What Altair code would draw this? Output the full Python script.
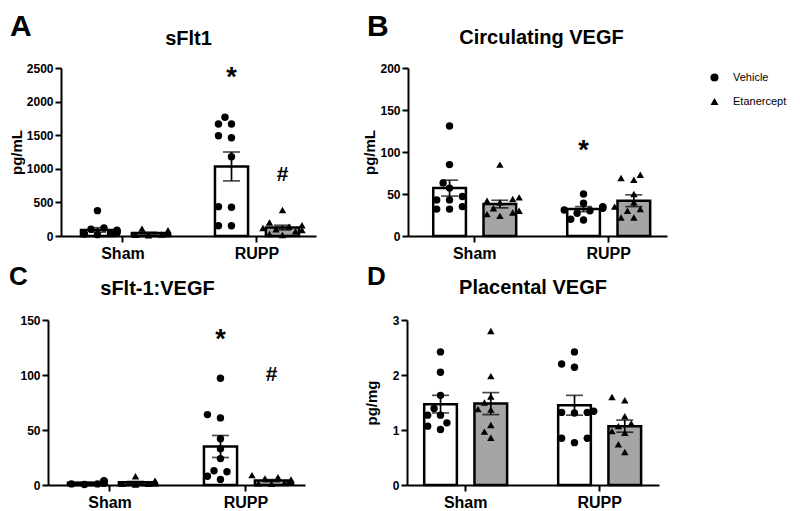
import altair as alt
import pandas as pd

FONT = "Liberation Sans"
categories = ["Sham", "RUPP"]
groups = ["Vehicle", "Etanercept"]

# ---- Panel A: sFlt1 (pg/mL) ----
a_sham_vehicle = [377, 120, 100, 85, 70, 60, 50, 40, 30, 20]
a_sham_etanercept = [110, 85, 65, 55, 45, 35, 30, 22, 18, 12]
a_rupp_vehicle = [1766, 1667, 1667, 1493, 1463, 1180, 437, 427, 153, 153]
a_rupp_etanercept = [387, 200, 160, 140, 120, 100, 90, 70, 30, 15]
a_mean = [90, 45, 1035, 125]          # Sham-Veh, Sham-Eta, RUPP-Veh, RUPP-Eta
a_sem = [33, 10, 215, 35]
a_marks = [("RUPP", "Vehicle", "*", 2345), ("RUPP", "Etanercept", "#", 908)]

# ---- Panel B: Circulating VEGF (pg/mL) ----
b_sham_vehicle = [131, 85, 63, 57, 47, 43, 43, 35, 32, 32]
b_sham_etanercept = [85, 46, 44, 42, 40, 33, 30, 28, 26, 24]
b_rupp_vehicle = [50, 39, 35, 34, 33, 31, 30, 27, 20, 19]
b_rupp_etanercept = [73, 69, 67, 50, 40, 35, 32, 30, 22, 22]
b_mean = [57, 38, 32, 42]
b_sem = [9.5, 4.5, 3, 7]
b_marks = [("RUPP", "Vehicle", "*", 101)]

# ---- Panel C: sFlt-1:VEGF ----
c_sham_vehicle = [4, 3.5, 3, 2.5, 2, 2, 1.5, 1, 1, 0.5]
c_sham_etanercept = [8, 4, 3, 2.5, 2, 2, 1.5, 1, 1, 0.5]
c_rupp_vehicle = [97, 64, 61, 42, 33, 24, 13, 12, 8, 5]
c_rupp_etanercept = [9, 7, 6, 5, 4, 3, 2.5, 2, 1.5, 1]
c_mean = [2, 2.5, 35, 4]
c_sem = [0.4, 0.7, 10, 0.9]
c_marks = [("RUPP", "Vehicle", "*", 131.5), ("RUPP", "Etanercept", "#", 100.3)]

# ---- Panel D: Placental VEGF (pg/mg) ----
d_sham_vehicle = [2.42, 2.05, 1.63, 1.39, 1.27, 1.27, 1.13, 1.07, 1.01]
d_sham_etanercept = [2.80, 1.98, 1.61, 1.50, 1.38, 1.37, 1.09, 0.97, 0.86]
d_rupp_vehicle = [2.42, 2.20, 2.14, 1.34, 1.32, 1.32, 1.31, 0.85, 0.85, 0.77]
d_rupp_etanercept = [1.60, 1.54, 1.25, 1.12, 1.07, 0.98, 0.95, 0.74, 0.60]
d_mean = [1.47, 1.48, 1.45, 1.07]
d_sem = [0.16, 0.2, 0.18, 0.11]
d_marks = []

SUBSTEP = 51.0  # px between the two bar centres inside a group
JX_DOMAIN = [-16.5 / SUBSTEP, 1 + 16.5 / SUBSTEP]


def swarm(values, ppu, step=6.5, min_d=8.0):
    """Deterministic bee-swarm: horizontal pixel offsets so points do not overlap."""
    order = sorted(range(len(values)), key=lambda i: values[i])
    placed = []
    offs = [0.0] * len(values)
    cands = [0, -1, 1, -2, 2, -3, 3]
    for i in order:
        y = values[i] * ppu
        x = 0.0
        for c in cands:
            x = c * step
            if all((x - px) ** 2 + (y - py) ** 2 >= min_d ** 2 for py, px in placed):
                break
        placed.append((y, x))
        offs[i] = x
    return offs


def frange(a, b, s):
    v = a
    while v <= b + 1e-9:
        yield v
        v += s


def panel(cfg, series, means, sems, marks, show_legend=False):
    w, h, ymax, ystep = cfg["w"], cfg["h"], cfg["ymax"], cfg["ystep"]
    ppu = h / ymax
    pts = []
    for ci, c in enumerate(categories):
        for gi, g in enumerate(groups):
            vals = series[ci * 2 + gi]
            offs = swarm(vals, ppu)
            for v, o in zip(vals, offs):
                pts.append({"cat": c, "grp": g, "val": v, "jx": gi + o / SUBSTEP})
    pts = pd.DataFrame(pts)
    summ = pd.DataFrame(
        [{"cat": c, "grp": g, "mean": means[ci * 2 + gi], "sem": sems[ci * 2 + gi]}
         for ci, c in enumerate(categories) for gi, g in enumerate(groups)]
    )

    xax = alt.Axis(title=None, labelFont=FONT, labelFontSize=16, labelFontWeight="bold",
                   labelColor="black", labelAngle=0, labelPadding=3, domainColor="black",
                   domainWidth=2, tickColor="black", tickWidth=2, tickSize=6, grid=False)
    X = alt.X("cat:N", sort=categories, axis=xax,
              scale=alt.Scale(domain=categories, paddingInner=cfg["pi"],
                              paddingOuter=cfg["po"], align=cfg["al"]))
    yax_kwargs = dict(values=list(frange(0, ymax, ystep)), format="d", labelFont=FONT,
                      labelFontSize=12, labelFontWeight="bold", labelColor="black",
                      labelPadding=2, domainColor="black", domainWidth=2, tickColor="black",
                      tickWidth=2, tickSize=6, grid=False)
    if cfg["ytitle"]:
        yax = alt.Axis(title=cfg["ytitle"], titleFont=FONT, titleFontSize=15,
                       titleFontWeight="bold", titleColor="black", titleAngle=270,
                       titleAlign="center", titleBaseline="middle",
                       titleX=cfg["tx"], titleY=h / 2, **yax_kwargs)
    else:
        yax = alt.Axis(title=None, **yax_kwargs)
    Y = lambda f: alt.Y(f, axis=yax, scale=alt.Scale(domain=[0, ymax], nice=False))
    XO = alt.XOffset("grp:N", sort=groups,
                     scale=alt.Scale(domain=groups, paddingInner=0.35, paddingOuter=0))
    XQ = alt.XOffset("jx:Q", scale=alt.Scale(domain=JX_DOMAIN, nice=False, zero=False))

    bars = alt.Chart(summ).mark_bar(stroke="black", strokeWidth=2.5).encode(
        x=X, xOffset=XO, y=Y("mean:Q"),
        fill=alt.condition(alt.datum.grp == groups[0], alt.value("white"), alt.value("#a5a5a5")),
    )
    base_err = alt.Chart(summ).transform_calculate(
        lo="datum.mean - datum.sem", hi="datum.mean + datum.sem")
    err = base_err.mark_rule(color="black", strokeWidth=1.7).encode(
        x=X, xOffset=XO, y=Y("lo:Q"), y2="hi:Q")
    cap_hi = base_err.mark_tick(color="black", thickness=1.7, size=17).encode(
        x=X, xOffset=XO, y=Y("hi:Q"))
    cap_lo = base_err.mark_tick(color="black", thickness=1.7, size=17).encode(
        x=X, xOffset=XO, y=Y("lo:Q"))

    if show_legend:
        leg = alt.Legend(title=None, orient="none", legendX=cfg["lx"], legendY=cfg["ly"],
                         labelFont=FONT, labelFontSize=11, labelColor="black",
                         symbolSize=65, symbolFillColor="black", symbolStrokeColor="black",
                         labelOffset=13, rowPadding=10, padding=0)
    else:
        leg = None
    points = alt.Chart(pts).mark_point(filled=True, color="black", size=55, opacity=1).encode(
        x=X, xOffset=XQ, y=Y("val:Q"),
        shape=alt.Shape("grp:N", sort=groups,
                        scale=alt.Scale(domain=groups, range=["circle", "triangle-up"]),
                        legend=leg),
    )

    layers = [bars, err, cap_hi, cap_lo, points]

    if marks:
        mdf = pd.DataFrame([{"cat": m[0], "jx": groups.index(m[1]), "txt": m[2], "val": m[3]}
                            for m in marks])
        for sym, fs in (("*", 27), ("#", 21)):
            sub = mdf[mdf["txt"] == sym]
            if len(sub):
                layers.append(alt.Chart(sub).mark_text(
                    font=FONT, fontSize=fs, fontWeight="bold", color="black",
                    align="center", baseline="middle"
                ).encode(x=X, xOffset=XQ, y=Y("val:Q"), text="txt:N"))

    letter = alt.Chart(pd.DataFrame({"t": [cfg["letter"]]})).mark_text(
        font=FONT, fontSize=cfg["lfs"], fontWeight="bold", color="black",
        align="left", baseline="top").encode(
        x=alt.value(cfg["lxp"]), y=alt.value(cfg["lyp"]), text="t:N")
    title = alt.Chart(pd.DataFrame({"t": [cfg["title"]]})).mark_text(
        font=FONT, fontSize=20, fontWeight="bold", color="black",
        align="center", baseline="middle").encode(
        x=alt.value(w / 2 + cfg["tdx"]), y=alt.value(cfg["ty"]), text="t:N")
    layers += [letter, title]

    return alt.layer(*layers).resolve_scale(xOffset="independent").properties(width=w, height=h)


def spacer():
    return alt.Chart(pd.DataFrame({"a": [0]})).mark_point(opacity=0, size=1).encode(
        x=alt.value(0.5), y=alt.value(0.5)).properties(width=1, height=1)


cfgA = dict(w=255, h=168, ymax=2500, ystep=500, pi=0.373, po=0.138, al=0.54,
            ytitle="pg/mL", tx=-45, letter="A", lfs=30, lxp=-51, lyp=-56,
            title="sFlt1", tdx=0, ty=-29)
cfgB = dict(w=259, h=168, ymax=200, ystep=50, pi=0.381, po=0.157, al=0.6,
            ytitle="pg/mL", tx=-39, letter="B", lfs=30, lxp=-41, lyp=-56,
            title="Circulating VEGF", tdx=4, ty=-30, lx=301, ly=4)
cfgC = dict(w=257, h=165, ymax=150, ystep=50, pi=0.382, po=0.136, al=0.54,
            ytitle=None, letter="C", lfs=26, lxp=-39, lyp=-56,
            title="sFlt-1:VEGF", tdx=-19, ty=-31)
cfgD = dict(w=252, h=165, ymax=3, ystep=1, pi=0.381, po=0.131, al=0.49,
            ytitle="pg/mg", tx=-36, letter="D", lfs=26, lxp=-40, lyp=-56,
            title="Placental VEGF", tdx=0, ty=-32)

pA = panel(cfgA, [a_sham_vehicle, a_sham_etanercept, a_rupp_vehicle, a_rupp_etanercept],
           a_mean, a_sem, a_marks)
pB = panel(cfgB, [b_sham_vehicle, b_sham_etanercept, b_rupp_vehicle, b_rupp_etanercept],
           b_mean, b_sem, b_marks, show_legend=True)
pC = panel(cfgC, [c_sham_vehicle, c_sham_etanercept, c_rupp_vehicle, c_rupp_etanercept],
           c_mean, c_sem, c_marks)
pD = panel(cfgD, [d_sham_vehicle, d_sham_etanercept, d_rupp_vehicle, d_rupp_etanercept],
           d_mean, d_sem, d_marks)

res = dict(xOffset="independent", shape="independent")
leg_res = dict(shape="independent")


def hc(*charts, spacing):
    return alt.hconcat(*charts, spacing=spacing).resolve_scale(**res).resolve_legend(**leg_res)


row1 = hc(hc(spacer(), pA, spacing=0), pB, spacing=46)
row2 = hc(hc(spacer(), pC, spacing=0), pD, spacing=59)
chart = alt.vconcat(row1, row2, spacing=3).resolve_scale(**res).resolve_legend(**leg_res).properties(
    padding={"left": 0, "top": 4, "right": 0, "bottom": 0}, background="white"
).configure_view(stroke=None)

chart.save("out.html", embed_options={"renderer": "svg", "actions": False})
